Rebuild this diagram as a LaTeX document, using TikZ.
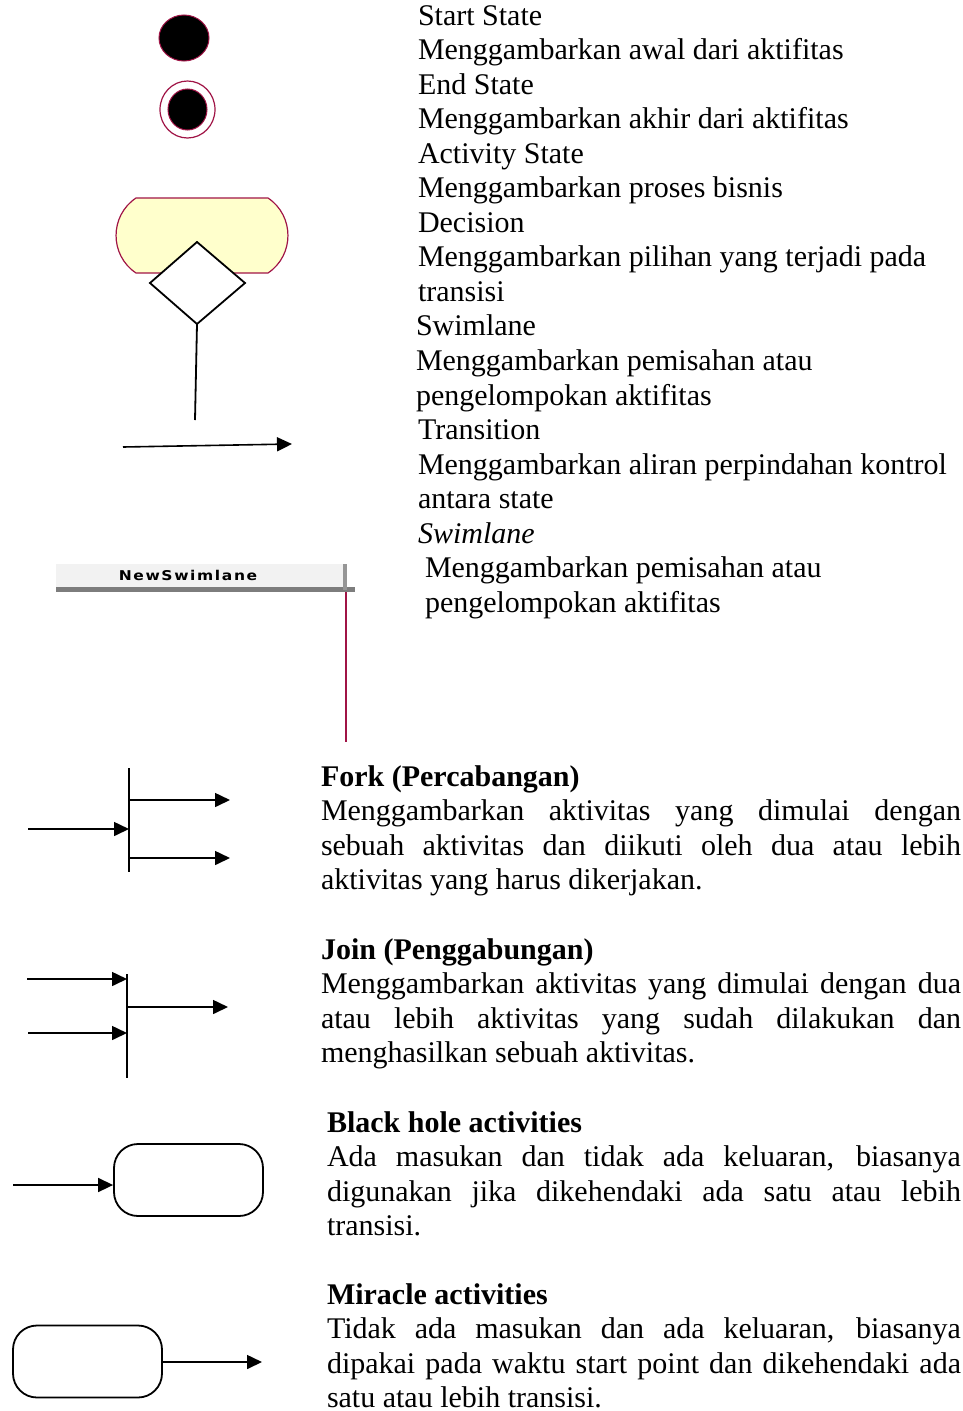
\documentclass[tikz,border=0pt]{standalone}
\usepackage{fontspec}
\setmainfont{Liberation Serif}
\newfontfamily\swimfont[FakeStretch=1.15,LetterSpace=12]{DejaVu Sans}
\usetikzlibrary{shapes.geometric,arrows.meta}
\definecolor{umlred}{RGB}{160,20,70}
\definecolor{actyellow}{RGB}{255,255,204}
\definecolor{swimgray}{RGB}{242,242,242}
\definecolor{bargray}{RGB}{125,125,125}
\definecolor{bargraylight}{RGB}{150,150,150}
\begin{document}
\begin{tikzpicture}[x=1pt,y=-1pt,
  txt/.style={anchor=base west,inner sep=0pt,outer sep=0pt,font=\fontsize{30}{34.5}\selectfont},
  arr/.style={line width=1.6pt,-{Triangle[length=15pt,width=14pt]}},
  forkbar/.style={line width=2pt},
  roundbox/.style={draw,line width=1.8pt,rounded corners=24pt,minimum width=149pt,minimum height=72pt,inner sep=0pt},
  dot/.style={ellipse,inner sep=0pt,draw=umlred}
]
\fill[white] (0,0) rectangle (963,1411);
\useasboundingbox (0,0) rectangle (963,1411);

% ---------- start / end state
\node[dot,line width=1pt,fill=black,minimum width=50pt,minimum height=46pt] (start) at (184,38) {};
\node[dot,line width=1.2pt,minimum width=55pt,minimum height=57pt] (endo) at (187.5,109.5) {};
\node[dot,line width=1pt,fill=black,minimum width=39pt,minimum height=41pt] (endi) at (187.5,109.5) {};

% ---------- activity state
\draw[umlred,line width=1.2pt,fill=actyellow] (136,198) -- (268,198)
  .. controls (294.6,215.8) and (294.6,255.2) .. (268,273) -- (136,273)
  .. controls (109.4,255.2) and (109.4,215.8) .. (136,198) -- cycle;

% ---------- decision
\coordinate (decT) at (197,242);
\coordinate (decR) at (245,283);
\coordinate (decB) at (197,324);
\coordinate (decL) at (150,283);
\draw[line width=1.8pt,fill=white,line join=miter] (decT) -- (decR) -- (decB) -- (decL) -- cycle;
\coordinate (decEnd) at (195,420);
\draw[line width=1.8pt] (decB) -- (decEnd);

% ---------- transition
\coordinate (trA) at (123,447);
\coordinate (trB) at (292,444);
\draw[arr] (trA) -- (trB);

% ---------- swimlane
\node[fill=swimgray,minimum width=290pt,minimum height=25pt,inner sep=0pt,anchor=north west] (swhead) at (56,564) {};
\node[anchor=base,inner sep=0pt,font=\swimfont\bfseries\fontsize{13.5}{14}\selectfont] (swtext) at (188,580) {NewSwimlane};
\coordinate (swL) at (56,589.5);
\coordinate (swR) at (355,589.5);
\draw[bargray,line width=4.5pt] (swL) -- (swR);
\coordinate (swBarT) at (344.5,564);
\coordinate (swBarB) at (344.5,590);
\draw[bargraylight,line width=4pt] (swBarT) -- (swBarB);
\coordinate (swLineT) at (346,592);
\coordinate (swLineB) at (346,742);
\draw[umlred,line width=1.6pt] (swLineT) -- (swLineB);

% ---------- fork
\coordinate (fkT) at (129,768);
\coordinate (fkB) at (129,872);
\draw[forkbar] (fkT) -- (fkB);
\coordinate (fkIn) at (28,829);
\coordinate (fkO1) at (230,800);
\coordinate (fkO2) at (230,858);
\draw[arr] (fkIn) -- (fkIn -| fkT);
\draw[arr] (fkO1 -| fkT) -- (fkO1);
\draw[arr] (fkO2 -| fkT) -- (fkO2);

% ---------- join
\coordinate (jnT) at (127,974);
\coordinate (jnB) at (127,1078);
\draw[forkbar] (jnT) -- (jnB);
\coordinate (jnI1) at (27,979);
\coordinate (jnI2) at (28,1033);
\coordinate (jnO) at (228,1007);
\draw[arr] (jnI1) -- (jnI1 -| jnT);
\draw[arr] (jnI2) -- (jnI2 -| jnT);
\draw[arr] (jnO -| jnT) -- (jnO);

% ---------- black hole
\node[roundbox] (bh) at (188.5,1180) {};
\coordinate (bhIn) at (13,1185);
\draw[arr] (bhIn) -- (bhIn -| bh.west);

% ---------- miracle
\node[roundbox] (mir) at (87.5,1361.5) {};
\coordinate (mirOut) at (262,1362);
\draw[arr] (mirOut -| mir.east) -- (mirOut);

% ---------- top texts
\node[txt] (t0)  at (418,25)     {Start State};
\node[txt] (t1)  at (418,59.55)  {Menggambarkan awal dari aktifitas};
\node[txt] (t2)  at (418,94.1)   {End State};
\node[txt] (t3)  at (418,128.65) {Menggambarkan akhir dari aktifitas};
\node[txt] (t4)  at (418,163.2)  {Activity State};
\node[txt] (t5)  at (418,197.75) {Menggambarkan proses bisnis};
\node[txt] (t6)  at (418,232.3)  {Decision};
\node[txt] (t7)  at (418,266.85) {Menggambarkan pilihan yang terjadi pada};
\node[txt] (t8)  at (418,301.4)  {transisi};
\node[txt] (t9)  at (416,335.95) {Swimlane};
\node[txt] (t10) at (416,370.5)  {Menggambarkan pemisahan atau};
\node[txt] (t11) at (416,405.05) {pengelompokan aktifitas};
\node[txt] (t12) at (418,439.6)  {Transition};
\node[txt] (t13) at (418,474.15) {Menggambarkan aliran perpindahan kontrol};
\node[txt] (t14) at (418,508.7)  {antara state};
\node[txt] (t15) at (418,543.25) {\itshape Swimlane};
\node[txt] (t16) at (425,577.8)  {Menggambarkan pemisahan atau};
\node[txt] (t17) at (425,612.35) {pengelompokan aktifitas};

% ---------- fork text
\node[txt] (f0) at (321,786)   {\bfseries Fork (Percabangan)};
\node[txt] (f1) at (321,820.5) {\makebox[640pt][s]{Menggambarkan aktivitas yang dimulai dengan}};
\node[txt] (f2) at (321,855)   {\makebox[640pt][s]{sebuah aktivitas dan diikuti oleh dua atau lebih}};
\node[txt] (f3) at (321,889.5) {aktivitas yang harus dikerjakan.};

% ---------- join text
\node[txt] (j0) at (321,959)    {\bfseries Join (Penggabungan)};
\node[txt] (j1) at (321,993.5)  {\makebox[640pt][s]{Menggambarkan aktivitas yang dimulai dengan dua}};
\node[txt] (j2) at (321,1028)   {\makebox[640pt][s]{atau lebih aktivitas yang sudah dilakukan dan}};
\node[txt] (j3) at (321,1062.5) {menghasilkan sebuah aktivitas.};

% ---------- black hole text
\node[txt] (b0) at (327,1132)   {\bfseries Black hole activities};
\node[txt] (b1) at (327,1166.5) {\makebox[634pt][s]{Ada masukan dan tidak ada keluaran, biasanya}};
\node[txt] (b2) at (327,1201)   {\makebox[634pt][s]{digunakan jika dikehendaki ada satu atau lebih}};
\node[txt] (b3) at (327,1235.5) {transisi.};

% ---------- miracle text
\node[txt] (m0) at (327,1304)   {\bfseries Miracle activities};
\node[txt] (m1) at (327,1338.5) {\makebox[634pt][s]{Tidak ada masukan dan ada keluaran, biasanya}};
\node[txt] (m2) at (327,1373)   {\makebox[634pt][s]{dipakai pada waktu start point dan dikehendaki ada}};
\node[txt] (m3) at (327,1407)   {satu atau lebih transisi.};
\end{tikzpicture}
\end{document}
